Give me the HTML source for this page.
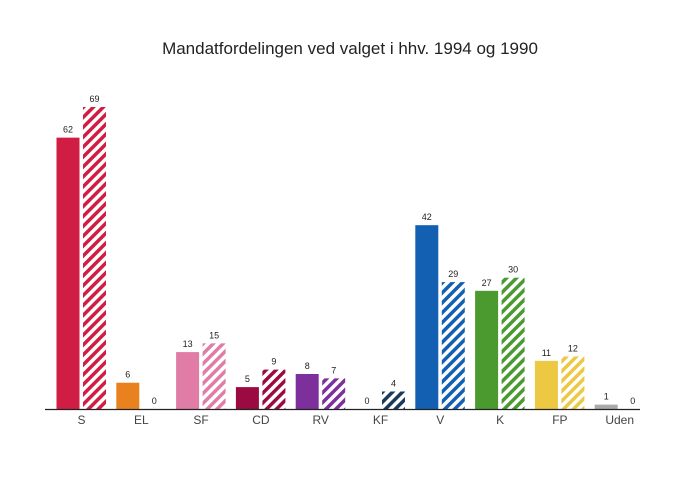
<!DOCTYPE html>
<html><head><meta charset="utf-8"><style>
body{margin:0;background:#fff;font-family:"Liberation Sans",sans-serif}
</style></head><body>
<svg id="c" width="680" height="476" xmlns="http://www.w3.org/2000/svg">
<text x="350" y="54" text-anchor="middle" font-size="17" fill="#222">Mandatfordelingen ved valget i hhv. 1994 og 1990</text>
<defs id="defs"></defs>
<g id="bars"></g>
<line x1="45" x2="640" y1="409.5" y2="409.5" stroke="#222" stroke-width="1.2"/>
</svg>
<script>
const parties = ["S","EL","SF","CD","RV","KF","V","K","FP","Uden"];
const votes1994 = [62,6,13,5,8,0,42,27,11,1];
const votes1990 = [69,0,15,9,7,4,29,30,12,0];
const colors = ["#d11d43","#e8821e","#e07ca6","#9b0a40","#7d2f9c","#1b3a5c","#1360b3","#4a9a30","#ecc843","#aaaaaa"];
const svg=document.getElementById('c'),defs=document.getElementById('defs'),g=document.getElementById('bars');
const NS="http://www.w3.org/2000/svg";
const base=409, k=(409-107)/69;
const y=v=>base-v*k;
const cx=i=>81.5+i*59.8;
function mk(t,a){const e=document.createElementNS(NS,t);for(const n in a)e.setAttribute(n,a[n]);return e;}
parties.forEach((p,i)=>{
  const pat=mk('pattern',{id:'h'+i,patternUnits:'userSpaceOnUse',width:7,height:7,patternTransform:'rotate(45)'});
  pat.appendChild(mk('rect',{x:0,y:0,width:3.5,height:7,fill:colors[i]}));
  defs.appendChild(pat);
  const c=cx(i);
  const r1=mk('rect',{x:c-25,y:y(votes1994[i]),width:23,height:votes1994[i]*k,fill:colors[i]});
  
  
  g.appendChild(r1);
  const r2=mk('rect',{x:c+1.5,y:y(votes1990[i]),width:23,height:votes1990[i]*k,fill:'url(#h'+i+')'});
  
  
  g.appendChild(r2);
  [[c-13.5,votes1994[i]],[c+13,votes1990[i]]].forEach(([x,v])=>{
    const t=mk('text',{x:x,y:y(v)-5,'text-anchor':'middle','font-size':9,fill:'#222'});
    t.textContent=v;
    
    
    g.appendChild(t);
  });
  const l=mk('text',{x:c,y:424,'text-anchor':'middle','font-size':12,fill:'#444'});
  l.textContent=p;
  
  
  g.appendChild(l);
});
</script>
</body></html>
